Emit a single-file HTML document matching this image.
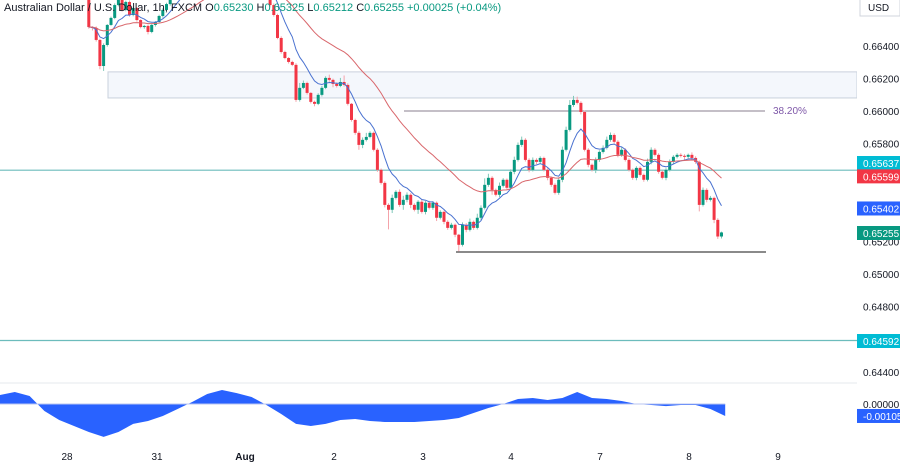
<!DOCTYPE html>
<html><head><meta charset="utf-8">
<style>
html,body{margin:0;padding:0;background:#fff;}
#wrap{position:relative;width:900px;height:463px;overflow:hidden;font-family:"Liberation Sans",sans-serif;}
svg text{font-family:"Liberation Sans",sans-serif;}
</style></head>
<body>
<div id="wrap">
<svg id="chart" width="900" height="463" viewBox="0 0 900 463" xmlns="http://www.w3.org/2000/svg"></svg>
</div>
<script>
const closes=[0.66515,0.66509,0.66436,0.66276,0.66405,0.66528,0.66571,0.66650,0.66712,0.66620,
0.66669,0.66589,0.66632,0.66558,0.66515,0.66522,0.66485,0.66528,0.66546,0.66583,
0.66620,0.66656,0.66712,0.66755,0.66773,0.66804,0.66834,0.66865,0.66853,0.66896,
0.66926,0.66914,0.66957,0.66938,0.66926,0.66896,0.66914,0.66865,0.66877,0.66853,
0.66834,0.66865,0.66816,0.66804,0.66791,0.66773,0.66742,0.66730,0.66693,0.66650,
0.66589,0.66448,0.66362,0.66325,0.66301,0.66283,0.66068,0.66142,0.66172,0.66111,
0.66056,0.66044,0.66099,0.66142,0.66203,0.66191,0.66166,0.66154,0.66178,0.66160,
0.66044,0.65945,0.65866,0.65792,0.65823,0.65841,0.65866,0.65762,0.65639,0.65559,
0.65424,0.65394,0.65467,0.65504,0.65424,0.65455,0.65486,0.65424,0.65394,0.65443,
0.65381,0.65437,0.65406,0.65437,0.65345,0.65381,0.65320,0.65283,0.65302,0.65241,
0.65179,0.65302,0.65271,0.65320,0.65283,0.65345,0.65406,0.65547,0.65590,0.65516,
0.65486,0.65541,0.65578,0.65529,0.65627,0.65700,0.65792,0.65823,0.65700,0.65639,
0.65700,0.65688,0.65712,0.65639,0.65590,0.65547,0.65498,0.65578,0.65762,0.65884,
0.66037,0.66068,0.66050,0.65994,0.65762,0.65670,0.65639,0.65700,0.65749,0.65774,
0.65823,0.65853,0.65811,0.65731,0.65762,0.65700,0.65639,0.65590,0.65651,0.65608,
0.65578,0.65688,0.65762,0.65731,0.65627,0.65590,0.65639,0.65688,0.65719,0.65731,
0.65725,0.65719,0.65731,0.65712,0.65688,0.65424,0.65516,0.65455,0.65467,0.65332,
0.65230,0.65255];
const firstOpen=0.66681;
const upWick=[20,5,10,8,10,5,8,10,15,10, 8,10,8,6,5,6,8,5,6,8, 10,8,8,10,10,10,10,10,10,10,
10,10,10,10,10,10,10,10,10,10, 10,10,10,10,10,10,10,10,10,15, 10,8,10,8,6,8,10,30,15,8,
5,8,10,12,10,20,8,10,25,40, 10,5,8,10,15,25,10,8,10,8, 10,10,20,10,15,25,15,10,10,10,
15,10,12,10,8,10,8,10,12,8, 5,15,10,20,8,25,15,40,25,10, 8,20,10,8,15,20,15,20,10,10,
15,10,10,8,10,8,10,15,20,20, 30,25,20,10,8,10,8,15,10,15, 20,15,10,10,15,10,10,8,10,10,
8,20,15,10,10,8,10,15,10,10, 10,10,8,15,10,8,15,10,12,8, 10,5];
const downWick=[10,15,10,20,30,10,5,8,8,10, 8,10,8,10,8,10,15,8,10,8, 10,10,10,10,10,10,10,10,10,10,
10,10,10,10,10,10,10,10,10,10, 10,10,10,10,10,10,10,10,10,10, 10,8,10,8,10,8,12,10,8,10,
10,15,8,10,8,12,20,10,8,10, 10,10,12,30,20,10,8,10,12,10, 15,120,20,10,12,30,15,20,10,25,
10,15,10,12,20,10,15,12,10,15, 40,10,15,10,12,10,15,10,12,30, 10,15,10,12,10,15,10,12,10,15,
10,15,12,10,15,12,10,12,15,10, 10,12,10,15,10,15,10,20,12,10, 10,12,10,15,12,10,10,12,15,10,
12,10,15,10,12,10,15,10,12,10, 10,20,10,10,12,40,10,15,10,20, 15,12];
const oscValues=[0.00079,0.00105,0.00070,-0.00061,-0.00140,-0.00193,-0.00246,-0.00289,-0.00246,-0.00175,
-0.00149,-0.00105,-0.00044,0.00018,0.00088,0.00123,0.00096,0.00061,-0.00009,-0.00088,
-0.00175,-0.00193,-0.00175,-0.00140,-0.00132,-0.00149,-0.00158,-0.00158,-0.00158,-0.00149,
-0.00140,-0.00123,-0.00079,-0.00035,0.00000,0.00044,0.00053,0.00035,0.00053,0.00105,
0.00053,0.00044,0.00026,0.00000,-0.00009,-0.00018,-0.00009,-0.00009,-0.00044,-0.00105];
const priceTicks=["0.66400","0.66200","0.66000","0.65800","0.65200","0.65000","0.64800","0.64400"];
const dayLabels=["28","31","Aug","2","3","4","7","8","9"];
const maFastLast=0.65402, maSlowLast=0.65599;
const levelFib=0.66000, levelSupport=0.65135, levelH1=0.65637, levelH2=0.64592;
const zoneTop=0.66240, zoneBottom=0.66080;

const NS="http://www.w3.org/2000/svg";
const svg=document.getElementById('chart');
const PX_PER_BAR=3.7, START_IDX=24;
const yP=p=>111+(0.66-p)*16300;
const xI=i=>(i+START_IDX)*PX_PER_BAR;
const yO=v=>404-v*11400;
function mk(tag,attrs,parent){const e=document.createElementNS(NS,tag);for(const k in attrs)e.setAttribute(k,attrs[k]);(parent||svg).appendChild(e);return e;}

const defs=mk('defs',{});
const cp=mk('clipPath',{id:'mainclip'},defs);mk('rect',{x:0,y:0,width:857,height:383},cp);
const main=mk('g',{'clip-path':'url(#mainclip)'});



const zone=mk('rect',{x:108,y:yP(zoneTop),width:749,height:yP(zoneBottom)-yP(zoneTop),fill:'#f4f7fc',stroke:'#c9d1dc','stroke-width':1},main);


[[levelH1,'resistance-line'],[levelH2,'support-line-lower']].forEach(([v,n])=>{
 const l=mk('line',{x1:0,x2:857,y1:yP(v),y2:yP(v),stroke:'#6cbcbc','stroke-width':1.2},main);
 
 
});
const fib=mk('line',{x1:404,x2:765,y1:yP(levelFib),y2:yP(levelFib),stroke:'#8a7f8f','stroke-width':1},main);


const fibT=mk('text',{x:773,y:yP(levelFib)+3,'font-size':10,fill:'#7e57a8'},main);fibT.textContent='38.20%';


const sup=mk('line',{x1:456,x2:766,y1:yP(levelSupport),y2:yP(levelSupport),stroke:'#444','stroke-width':1.2},main);



const cg=mk('g',{},main);


for(let i=0;i<closes.length;i++){
 const o=i?closes[i-1]:firstOpen, c=closes[i];
 const hi=Math.max(o,c)+upWick[i]*1e-5, lo=Math.min(o,c)-downWick[i]*1e-5;
 const col=c>=o?'#089981':'#f23645', wcol=c>=o?'#7fc8b8':'#f4a3aa';
 const x=xI(i);
 const w=mk('line',{x1:x,x2:x,y1:yP(hi),y2:yP(lo),stroke:wcol,'stroke-width':1},cg);
 
 
 const t=Math.min(yP(o),yP(c)), h=Math.max(1,Math.abs(yP(o)-yP(c)));
 const b=mk('rect',{x:x-1.5,y:t,width:3,height:h,fill:col},cg);
 
 
}
function ema(n){const k=2/(n+1);let e=closes[0];return closes.map(c=>(e=c*k+e*(1-k)));}
[[ema(9),'#4a72d0','ma-fast'],[ema(34),'#d9676c','ma-slow']].forEach(([arr,col,n])=>{
 const pl=mk('polyline',{points:arr.map((v,i)=>xI(i).toFixed(1)+','+yP(v).toFixed(1)).join(' '),fill:'none',stroke:col,'stroke-width':1},main);
 
 
});

const title=mk('text',{x:4,y:11,'font-size':11,fill:'#131722'});


title.innerHTML='Australian Dollar / U.S. Dollar, 1h, FXCM  O<tspan fill="#089981">0.65230</tspan>  H<tspan fill="#089981">0.65325</tspan>  L<tspan fill="#089981">0.65212</tspan>  C<tspan fill="#089981">0.65255</tspan>  <tspan fill="#089981">+0.00025 (+0.04%)</tspan>';

const sep=mk('line',{x1:0,x2:857,y1:383,y2:383,stroke:'#e6e8ee','stroke-width':1});



const step=4;
let pts=oscValues.map((v,k)=>(k*step*PX_PER_BAR).toFixed(1)+','+yO(v).toFixed(1));
const lastX=((oscValues.length-1)*step*PX_PER_BAR);
const osc=mk('polygon',{points:'0,'+yO(0)+' '+pts.join(' ')+' '+lastX.toFixed(1)+','+yO(0),fill:'#2962ff'});


const zl=mk('line',{x1:0,x2:lastX,y1:yO(0),y2:yO(0),stroke:'#b8c4f0','stroke-width':1});



const ax=mk('rect',{x:857,y:0,width:43,height:463,fill:'#fff'});


priceTicks.forEach((t)=>{
 const v=parseFloat(t);
 const e=mk('text',{x:863,y:yP(v)+4,'font-size':10,fill:'#131722'});e.textContent=t;
 
 
});
const usd=mk('rect',{x:860,y:-1,width:40,height:17,fill:'#fff',stroke:'#d1d4dc'});


const ut=mk('text',{x:868,y:11,'font-size':10,fill:'#131722'});ut.textContent='USD';


function tag(yc,txt,bg,n){
 const r=mk('rect',{x:857,y:yc-7,width:43,height:14,fill:bg});
 
 
 const t=mk('text',{x:863,y:yc+4,'font-size':10,fill:'#fff'});t.textContent=txt;
 
 
}
tag(163,levelH1.toFixed(5),'#00bcd4','level-tag');
tag(yP(maSlowLast),maSlowLast.toFixed(5),'#f23645','ma-slow-tag');
tag(yP(maFastLast),maFastLast.toFixed(5),'#2962ff','ma-fast-tag');
tag(233,closes[closes.length-1].toFixed(5),'#089981','last-price-tag');
tag(341,levelH2.toFixed(5),'#00bcd4','level-tag-lower');
const z0=mk('text',{x:863,y:yO(0)+4,'font-size':10,fill:'#131722'});z0.textContent='0.00000';


tag(yO(oscValues[oscValues.length-1]),oscValues[oscValues.length-1].toFixed(5),'#2962ff','osc-value-tag');

const dayX=[67,157,245,334,423,511,600,689,778];
dayLabels.forEach((d,i)=>{
 const t=mk('text',{x:dayX[i],y:460,'font-size':10,fill:'#131722','text-anchor':'middle','font-weight':d==='Aug'?'bold':'normal'});
 t.textContent=d;
 
 
});
</script>
</body></html>
